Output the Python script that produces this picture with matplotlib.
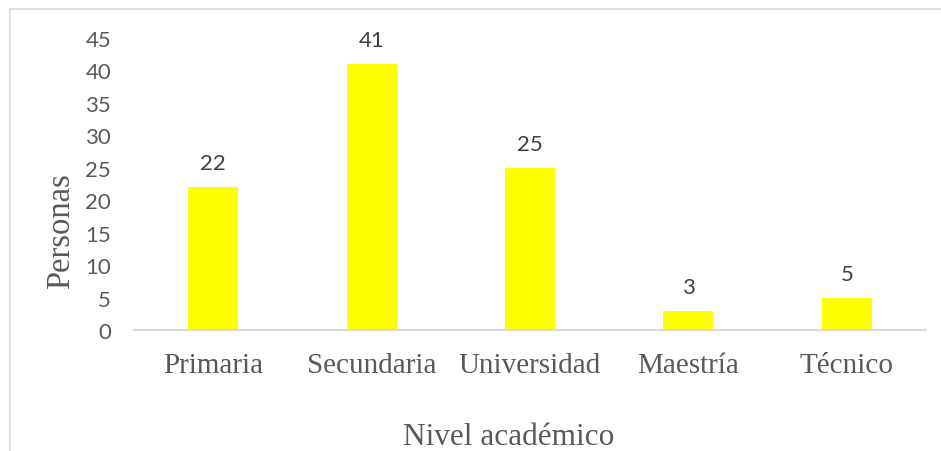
import matplotlib.pyplot as plt
import matplotlib.patches as patches
import numpy as np

categories = ["Primaria", "Secundaria", "Universidad", "Maestría", "Técnico"]
personas = [22, 41, 25, 3, 5]
yticks = [0, 5, 10, 15, 20, 25, 30, 35, 40, 45]

W, H = 941, 452
fig = plt.figure(figsize=(W / 100, H / 100), dpi=100)

# outer chart border (light gray, runs off right and bottom)
fig.patches.append(patches.Rectangle((10 / W, -0.1), 2, (H - 10) / H + 0.1,
                                     transform=fig.transFigure, fill=False,
                                     edgecolor="#D9D9D9", linewidth=1.2))

ax = fig.add_axes([134 / W, (H - 331) / H, (926 - 134) / W, (331 - 39) / H])
x = np.arange(len(categories))
ax.bar(x, personas, width=0.316, color="#FFFF00")

for xi, v in zip(x, personas):
    ax.annotate(str(v), (xi, v), xytext=(0, 10), textcoords="offset points",
                ha="center", va="bottom", fontsize=16, color="#404040",
                family="Lato")

ax.set_xlim(-0.5, len(categories) - 0.5)
ax.set_ylim(0, 45)
ax.set_yticks(yticks)
ax.set_yticklabels([str(t) for t in yticks], fontsize=16, color="#595959", family="Lato")
ax.set_xticks(x)
ax.set_xticklabels(categories, fontsize=21, color="#595959", family="Liberation Serif")
ax.tick_params(axis="y", length=0, pad=16.5)
ax.tick_params(axis="x", length=0, pad=16)

for s in ["top", "right", "left"]:
    ax.spines[s].set_visible(False)
ax.spines["bottom"].set_color("#D9D9D9")
ax.spines["bottom"].set_linewidth(1.5)

fig.text(61 / W, 1 - 231 / H, "Personas", rotation=90, ha="center", va="center",
         fontsize=23.5, color="#595959", family="Liberation Serif")
fig.text(509 / W, 1 - 438 / H, "Nivel académico", ha="center", va="center",
         fontsize=22.5, color="#595959", family="Liberation Serif")

fig.savefig("out.png", dpi=100)
